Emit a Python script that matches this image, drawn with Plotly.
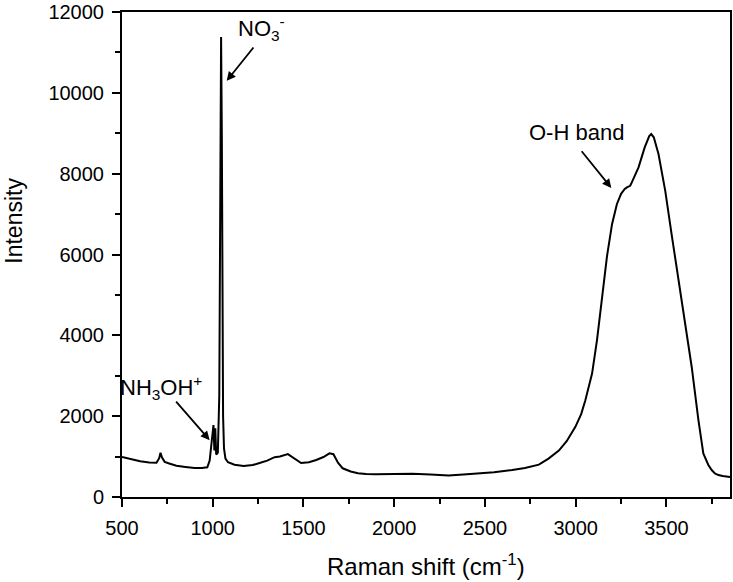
import plotly.graph_objects as go

raman_shift = [500, 550, 600, 650, 690, 705, 712, 720, 735, 760, 800, 850, 900, 940, 970,
               983, 993, 1000, 1004, 1009, 1014, 1019, 1028, 1036, 1041, 1046, 1050, 1053,
               1057, 1062, 1070, 1084, 1120, 1170, 1220, 1258, 1300, 1341, 1370, 1414, 1450,
               1487, 1530, 1570, 1610, 1643, 1665, 1690, 1716, 1760, 1800, 1844, 1900, 2000,
               2100, 2200, 2300, 2400, 2467, 2550, 2650, 2720, 2797, 2850, 2907, 2950, 2998,
               3030, 3053, 3090, 3117, 3145, 3172, 3200, 3227, 3250, 3270, 3282, 3300, 3309,
               3330, 3346, 3380, 3405, 3416, 3430, 3456, 3493, 3530, 3566, 3603, 3639, 3676,
               3703, 3730, 3749, 3767, 3786, 3810, 3841, 3850]
intensity = [990, 930, 885, 855, 850, 960, 1095, 980, 870, 830, 775, 745, 715, 720, 735,
             900, 1300, 1700, 1780, 1150, 1700, 1050, 1100, 2500, 7000, 11380, 9000, 5000,
             2000, 1200, 950, 860, 800, 765, 790, 840, 900, 985, 1000, 1060, 960,
             840, 860, 915, 990, 1080, 1060, 850, 710, 630, 590, 568, 565, 570,
             575, 555, 530, 560, 580, 610, 667, 720, 800, 950, 1150, 1380, 1736,
             2050, 2395, 3054, 3876, 4864, 5950, 6750, 7250, 7500, 7620, 7660, 7700, 7785,
             8000, 8155, 8650, 8930, 8980, 8900, 8486, 7580, 6450, 5358, 4288, 3217, 1901,
             1079, 800, 667, 585, 543, 520, 500, 495]

x_ticks = [500, 1000, 1500, 2000, 2500, 3000, 3500]
y_ticks = [0, 2000, 4000, 6000, 8000, 10000, 12000]

FONT = "Liberation Sans, Arial, sans-serif"

fig = go.Figure()
fig.add_trace(go.Scatter(x=raman_shift, y=intensity, mode="lines",
                         line=dict(color="black", width=2), showlegend=False))

axis_common = dict(
    showline=True, linecolor="black", linewidth=2, mirror=True,
    ticks="outside", ticklen=8, tickwidth=2, tickcolor="black",
    showgrid=False, zeroline=False, tickformat="d", ticklabelstandoff=4,
    tickfont=dict(family=FONT, size=20, color="black"),
)
fig.update_xaxes(range=[500, 3850], tickvals=x_ticks,
                 minor=dict(ticks="outside", ticklen=5, tickwidth=2, tickcolor="black", dtick=250, showgrid=False),
                 **axis_common)
fig.update_yaxes(range=[0, 12000], tickvals=y_ticks,
                 minor=dict(ticks="outside", ticklen=5, tickwidth=2, tickcolor="black", dtick=1000, showgrid=False),
                 **axis_common)

ann_font = dict(family=FONT, size=22, color="black")
annotations = [
    dict(text="NO<sub>3</sub><sup>-</sup>", x=1269, y=11600, xref="x", yref="y", showarrow=False, font=ann_font),
    dict(text="", x=1077, y=10296, ax=1231, ay=11160, xref="x", yref="y", axref="x", ayref="y",
         showarrow=True, arrowhead=2, arrowsize=1, arrowwidth=1.8, arrowcolor="black"),
    dict(text="NH<sub>3</sub>OH<sup>+</sup>", x=714, y=2700, xref="x", yref="y", showarrow=False, font=ann_font),
    dict(text="", x=983, y=1407, ax=791, ay=2395, xref="x", yref="y", axref="x", ayref="y",
         showarrow=True, arrowhead=2, arrowsize=1, arrowwidth=1.8, arrowcolor="black"),
    dict(text="O-H band", x=3003, y=9012, xref="x", yref="y", showarrow=False, font=ann_font),
    dict(text="", x=3196, y=7646, ax=3026, ay=8592, xref="x", yref="y", axref="x", ayref="y",
         showarrow=True, arrowhead=2, arrowsize=1, arrowwidth=1.8, arrowcolor="black"),
    dict(text="Raman shift (cm<sup>-1</sup>)", x=0.5, y=-0.14, xref="paper", yref="paper",
         showarrow=False, font=dict(family=FONT, size=24, color="black"), yanchor="middle"),
    dict(text="Intensity", x=-0.179, y=0.57, xref="paper", yref="paper", textangle=-90,
         showarrow=False, font=dict(family=FONT, size=23, color="black"), xanchor="center"),
]

fig.update_layout(
    width=733, height=582,
    margin=dict(l=122, r=1, t=11, b=85),
    plot_bgcolor="white", paper_bgcolor="white",
    annotations=annotations,
)

fig.write_html("out.html", config={"displayModeBar": False},
               post_script="document.body.style.margin='0';document.body.style.overflow='hidden';")
